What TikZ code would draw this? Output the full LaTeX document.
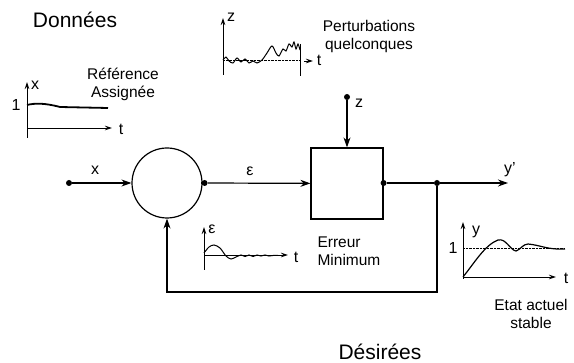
\documentclass[tikz,border=0pt]{standalone}
\usepackage{fontspec}
\setmainfont{Liberation Sans}
\usetikzlibrary{arrows.meta,positioning}
\tikzset{
  bloque/.style={
    draw,
    line width=1.2pt,
    minimum width=72pt,
    minimum height=71pt,
    inner sep=0pt
  },
  sumador/.style={
    draw,
    circle,
    line width=1.2pt,
    minimum size=70pt,
    inner sep=0pt
  },
  punto/.style={
    circle,
    fill,
    inner sep=0pt,
    minimum size=6pt
  },
  fleche/.style={
    -{Stealth[length=10pt,width=7pt]},
    line width=1.2pt
  },
  axe/.style={
    -{Stealth[length=7pt,width=4.5pt]},
    line width=.9pt
  },
  etiq/.style={
    font=\fontsize{16}{16}\selectfont,
    inner sep=1pt
  },
  titre/.style={
    font=\fontsize{21}{21}\selectfont
  },
  legende/.style={
    font=\fontsize{15.5}{18}\selectfont,
    align=center
  }
}

\begin{document}
\begin{tikzpicture}[x=1pt,y=-1pt]
\useasboundingbox (0,0) rectangle (574,363);
% boucle
\node[sumador] (cmp) at (167,183) {};
\node[bloque] (sys) at (347,183.5) {};
\node[punto] (ent) at (69,183) {};
\node[punto] (err) at ([xshift=2pt]cmp.east) {};
\node[punto] (pz) at (347,97) {};
\node[punto] (sor) at (sys.east |- cmp) {};
\node[punto] (bra) at (437,183) {};
\coordinate (fin) at (508,183);
\coordinate (bas) at (437,292);
\draw[fleche] (ent) -- (cmp);
\draw[line width=1.2pt] (cmp) -- (err);
\draw[fleche] (err) -- (sys);
\draw[fleche] (pz) -- (sys);
\draw[line width=1.2pt] (sor) -- (bra);
\draw[fleche] (bra) -- (fin);
\draw[fleche] (bra) -- (bas) -| (cmp);
\node[etiq] (lx) at (95,170) {x};
\node[etiq] (leps) at (250,171) {ε};
\node[etiq] (lz) at (359,103) {z};
\node[etiq] (ly) at (510,170) {y'};
% textes
\node[titre] (don) at (75,20) {Données};
\node[titre] (des) at (380,352) {Désirées};
\node[legende] (pert) at (369,36) {Perturbations\\quelconques};
\node[legende] (refa) at (123,84) {Référence\\Assignée};
\node[legende,align=left,anchor=west] (errm) at (314,251) {Erreur\\Minimum};
\node[legende] (etat) at (531,314) {Etat actuel\\stable};
% consigne x
\draw[axe] (27,138) -- (27,82);
\draw[axe] (27,128) -- (112,128);
\node[etiq] (xx) at (35,85) {x};
\node[etiq] (tx) at (121,129) {t};
\node[etiq] (ux) at (16,105) {1};
\draw[line width=1.8pt] (27,105) .. controls (35,103) and (45,103) .. (60,107) -- (108,108);
% perturbation z
\draw[axe] (223,75) -- (223,18);
\node[etiq] (zz) at (231,17) {z};
\draw[densely dotted] (223,60) -- (300,60);
\draw[line width=1pt] plot[smooth] coordinates {(223,60) (226,57) (229,61) (233,63) (237,58) (241,62) (245,59) (249,63) (253,61) (257,63) (262,60) (267,53) (272,46) (276,53) (279,56) (283,49) (286,51) (289,44) (292,47) (294,42) (296,49) (298,44) (300,50)};
\draw[line width=1pt] (300,44) -- (300,76);
\draw[axe] (304,61) -- (313,61);
\node[etiq] (tz) at (319,60) {t};
% erreur
\draw[axe] (204,270) -- (204,227);
\node[etiq] (ee) at (212,229) {ε};
\draw[axe] (204,255) -- (288,255);
\node[etiq] (te) at (296,257) {t};
\draw[line width=1pt] plot[smooth] coordinates {(204,253) (209,247) (214,245) (220,248) (226,256) (231,259) (236,257) (241,255) (245,256.5) (249,255) (253,256.5) (257,255) (261,256) (265,255) (269,256) (273,255.5) (278,255.5)};
% sortie y
\draw[axe] (463,279) -- (463,222);
\node[etiq] (yy) at (476,232) {y};
\node[etiq] (uy) at (453,248) {1};
\draw[densely dotted] (463,248) -- (565,248);
\draw[axe] (463,277) -- (556,277);
\node[etiq] (ty) at (566,278) {t};
\draw[line width=1.2pt] (463,277) .. controls (475,262) and (485,245) .. (498,240) .. controls (506,238) and (510,250) .. (516,251) .. controls (520,250) and (523,244) .. (528,244) .. controls (540,245) and (548,250) .. (565,249);
\end{tikzpicture}
\end{document}
